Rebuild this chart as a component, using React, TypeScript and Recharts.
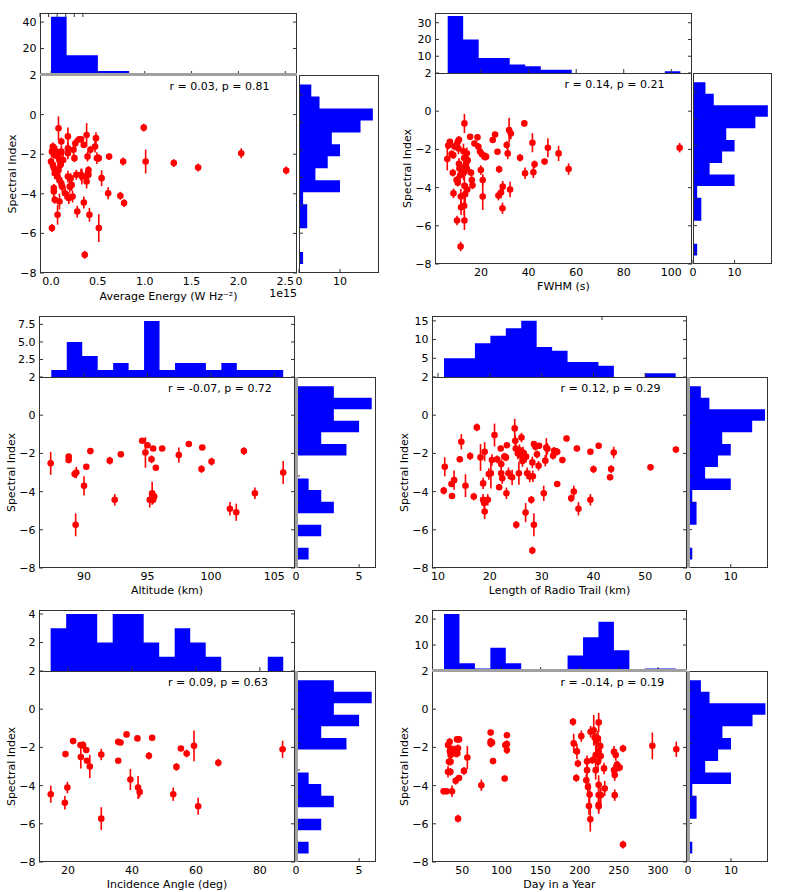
import React from 'react';
import {
  ComposedChart,
  ScatterChart,
  Scatter,
  ErrorBar,
  Area,
  XAxis,
  YAxis,
} from 'recharts';

// ---------- data ----------

// spectral index histogram (right margin), bins listed top -> bottom
const indexBinRange = [-7.55, 1.52];
const allIndexCounts = [3, 5, 18, 15, 8, 10, 7, 4, 10, 1, 2, 2, 0, 0, 1];
const subsetIndexCounts = [3, 6, 3, 5, 2, 4, 0, 0, 1, 2, 3, 0, 2, 0, 1];
const indexTicks = [-8, -6, -4, -2, 0, 2];
// the margin histogram carries its own (unlabelled) tick marks
const histIndexTicks = [0.99, -0.39, -1.79, -3.18, -4.57, -5.99, -7.39];

// points are [x, spectral index, error]
const energyPoints = [
  [0.01, -5.73, 0.2], [0.0, -2.37, 0.2], [0.01, -1.87, 0.2], [0.02, -1.61, 0.2], [0.02, -1.78, 0.15],
  [0.03, -2.03, 0.2], [0.02, -2.54, 0.3], [0.03, -2.7, 0.2], [0.04, -2.96, 0.3], [0.03, -3.71, 0.2],
  [0.03, -3.88, 0.3], [0.04, -4.3, 0.2], [0.08, -0.69, 0.6], [0.06, -1.87, 0.3], [0.07, -2.12, 0.3],
  [0.09, -2.29, 0.3], [0.1, -2.54, 0.4], [0.08, -2.79, 0.4], [0.07, -3.13, 0.3], [0.09, -3.3, 0.4],
  [0.11, -3.47, 0.3], [0.07, -5.06, 0.5], [0.09, -4.39, 0.4], [0.11, -1.36, 0.2], [0.11, -1.87, 0.3],
  [0.13, -2.29, 0.3], [0.12, -3.64, 0.3], [0.15, -3.97, 0.3], [0.18, -1.1, 0.45], [0.18, -1.7, 0.3],
  [0.18, -1.95, 0.3], [0.18, -3.13, 0.3], [0.19, -4.22, 0.3], [0.2, -3.64, 0.3], [0.21, -3.21, 0.25],
  [0.22, -3.55, 0.3], [0.23, -4.14, 0.3], [0.24, -1.78, 0.25], [0.25, -2.2, 0.2], [0.26, -1.45, 0.25],
  [0.27, -3.04, 0.25], [0.28, -4.9, 0.3], [0.3, -1.25, 0.15], [0.32, -1.25, 0.15], [0.32, -3.04, 0.3],
  [0.33, -3.13, 0.4], [0.35, -1.53, 0.15], [0.35, -4.44, 0.3], [0.36, -7.08, 0.2], [0.37, -3.13, 0.3],
  [0.38, -3.38, 0.35], [0.38, -1.03, 0.6], [0.39, -2.12, 0.25], [0.4, -2.8, 0.2], [0.4, -3.04, 0.2],
  [0.42, -1.78, 0.2], [0.41, -5.06, 0.35], [0.48, -1.19, 0.3], [0.47, -1.61, 0.3], [0.49, -2.2, 0.3],
  [0.51, -2.2, 0.2], [0.51, -5.73, 0.7], [0.54, -3.21, 0.4], [0.62, -2.12, 0.15], [0.61, -3.97, 0.3],
  [0.74, -4.1, 0.2], [0.78, -4.47, 0.2], [0.77, -2.37, 0.2], [0.99, -0.66, 0.2], [1.01, -2.37, 0.6],
  [1.31, -2.45, 0.2], [1.57, -2.67, 0.2], [2.03, -1.95, 0.25], [2.51, -2.82, 0.2],
];
const energyCounts = [44, 15, 15, 3, 3, 1, 1, 1, 0, 1, 0, 0, 1, 0, 1];
const energyBinRange = [0, 2.5];
const energyTicks = [0, 0.5, 1, 1.5, 2, 2.5];

const fwhmPoints = [
  [5.8, -2.5, 0.6], [6.2, -1.8, 0.2], [6.9, -1.6, 0.15], [7.6, -2.24, 0.2], [8.3, -2.3, 0.2],
  [8.8, -1.85, 0.2], [9.8, -1.77, 0.2], [10.2, -1.6, 0.2], [10.7, -1.5, 0.2], [8.1, -3.22, 0.2],
  [8.4, -4.3, 0.25], [9.7, -3.6, 0.2], [10.2, -3.74, 0.2], [10.5, -1.95, 0.3], [10.7, -2.75, 0.3],
  [10.9, -3.0, 0.3], [11.2, -3.35, 0.3], [11.5, -4.47, 0.4], [11.6, -5.03, 0.4], [9.9, -5.72, 0.25],
  [11.4, -7.08, 0.25], [13.0, -0.64, 0.5], [12.6, -2.1, 0.4], [12.9, -2.45, 0.5], [13.3, -2.9, 0.5],
  [12.6, -3.2, 0.4], [13.0, -3.9, 0.5], [13.3, -4.35, 0.5], [12.9, -4.95, 0.5], [13.0, -5.72, 0.5],
  [14.0, -2.2, 0.3], [13.7, -2.74, 0.3], [14.0, -3.0, 0.3], [14.4, -2.57, 0.3], [14.2, -4.1, 0.3],
  [15.4, -1.34, 0.15], [15.8, -3.22, 0.2], [16.1, -3.6, 0.2], [16.4, -3.88, 0.2], [17.2, -1.69, 0.15],
  [18.5, -1.37, 0.15], [18.9, -1.86, 0.2], [19.6, -2.12, 0.2], [19.9, -3.08, 0.25], [20.4, -2.25, 0.2],
  [20.7, -3.6, 0.3], [20.7, -4.47, 0.7], [21.4, -2.38, 0.2], [22.1, -2.38, 0.2], [24.9, -1.51, 0.15],
  [25.9, -1.22, 0.15], [26.9, -2.12, 0.15], [27.6, -3.04, 0.2], [27.3, -4.42, 0.25], [28.4, -4.26, 0.3],
  [29.1, -3.95, 0.3], [29.0, -5.08, 0.3], [30.8, -1.77, 0.2], [31.2, -2.21, 0.3], [31.8, -0.99, 0.65],
  [32.5, -1.17, 0.3], [32.2, -4.1, 0.4], [36.4, -2.44, 0.2], [38.2, -0.64, 0.15], [38.5, -3.25, 0.3],
  [41.6, -1.65, 0.5], [42.0, -3.2, 0.3], [42.5, -2.78, 0.2], [46.7, -2.64, 0.15], [48.1, -1.91, 0.5],
  [52.6, -2.21, 0.4], [56.8, -3.03, 0.3], [103.5, -1.91, 0.25],
];
const fwhmCounts = [34, 20, 9, 9, 5, 4, 2, 2, 0, 0, 0, 0, 0, 0, 1];
const fwhmBinRange = [5.96, 103.8];
const fwhmTicks = [20, 40, 60, 80, 100];

const altitudePoints = [
  [87.37, -2.52, 0.6], [88.79, -2.17, 0.1], [88.79, -2.35, 0.1], [89.26, -3.08, 0.2], [89.39, -3.0, 0.3],
  [90.0, -3.7, 0.5], [89.34, -5.74, 0.6], [90.18, -2.7, 0.1], [90.5, -1.88, 0.1], [92.03, -2.38, 0.2],
  [92.42, -4.43, 0.3], [92.9, -2.05, 0.1], [94.58, -1.34, 0.1], [94.84, -1.95, 0.8], [95.0, -1.57, 0.1],
  [95.45, -1.74, 0.1], [95.32, -2.31, 0.2], [95.18, -4.43, 0.4], [95.37, -4.09, 0.6], [95.45, -4.43, 0.2],
  [95.53, -4.26, 0.2], [95.66, -2.75, 0.1], [96.16, -1.74, 0.1], [97.47, -2.09, 0.4], [98.26, -1.51, 0.1],
  [99.26, -2.82, 0.2], [99.32, -1.69, 0.1], [100.05, -2.43, 0.2], [101.5, -4.9, 0.35], [102.0, -5.08, 0.45],
  [102.6, -1.88, 0.2], [103.47, -4.09, 0.3], [105.7, -3.0, 0.6],
];
const altitudeCounts = [1, 5, 3, 1, 2, 1, 8, 1, 2, 2, 1, 2, 1, 1, 1];
const altitudeBinRange = [87.42, 105.7];
const altitudeTicks = [90, 95, 100, 105];

const trailPoints = [
  [11.3, -2.7, 0.5], [11.1, -3.95, 0.2], [12.6, -3.6, 0.15], [12.7, -4.23, 0.15], [13.1, -3.4, 0.5],
  [14.2, -2.31, 0.15], [14.5, -1.39, 0.4], [15.3, -3.69, 0.6], [16.2, -2.14, 0.2], [16.9, -4.26, 0.2],
  [17.5, -0.64, 0.2], [18.2, -2.21, 0.7], [18.7, -3.57, 0.3], [18.7, -4.43, 0.3], [19.0, -1.91, 0.5],
  [19.0, -5.04, 0.4], [18.9, -4.6, 0.3], [19.6, -4.43, 0.3], [19.8, -3.08, 0.3], [20.2, -3.04, 0.8],
  [20.4, -2.35, 0.3], [20.9, -1.04, 0.6], [21.4, -2.31, 0.2], [21.8, -3.77, 0.15], [22.1, -1.74, 0.15],
  [22.2, -2.56, 0.25], [22.2, -3.04, 0.3], [22.4, -3.3, 0.3], [22.8, -2.17, 0.2], [23.1, -2.21, 0.2],
  [23.2, -4.09, 0.3], [23.3, -1.57, 0.15], [23.6, -3.04, 0.3], [24.3, -3.25, 0.4], [24.8, -0.69, 0.5],
  [24.9, -1.34, 0.3], [25.0, -1.74, 0.3], [25.1, -5.74, 0.2], [25.4, -2.0, 0.3], [25.6, -3.04, 0.6],
  [25.7, -1.83, 0.3], [25.9, -2.1, 0.3], [26.1, -1.17, 0.25], [26.3, -2.4, 0.3], [26.4, -1.95, 0.3],
  [26.9, -5.1, 0.5], [27.0, -2.17, 0.3], [27.2, -3.04, 0.3], [27.7, -3.21, 0.3], [28.0, -4.43, 0.2],
  [28.2, -2.47, 0.3], [28.3, -3.2, 0.3], [28.5, -5.74, 0.6], [28.2, -7.08, 0.2], [28.5, -1.51, 0.15],
  [28.8, -1.65, 0.2], [29.1, -2.05, 0.2], [29.4, -2.65, 0.25], [29.5, -1.6, 0.15], [30.4, -4.09, 0.4],
  [30.7, -2.38, 0.3], [30.9, -1.7, 0.5], [31.1, -1.76, 0.3], [32.2, -2.12, 0.2], [32.4, -1.86, 0.2],
  [33.0, -3.6, 0.15], [33.0, -1.91, 0.2], [34.0, -2.35, 0.15], [34.8, -1.22, 0.15], [35.7, -4.35, 0.2],
  [36.2, -4.0, 0.3], [36.8, -1.74, 0.15], [37.1, -4.9, 0.35], [39.4, -1.91, 0.15], [39.4, -4.43, 0.3],
  [40.0, -2.83, 0.2], [41.0, -1.6, 0.15], [43.2, -3.25, 0.15], [43.4, -2.82, 0.2], [43.9, -1.95, 0.3],
  [51.0, -2.73, 0.15], [55.9, -1.8, 0.15],
];
const trailCounts = [5, 5, 9, 11, 13, 15, 8, 7, 4, 4, 3, 0, 0, 1, 1];
const trailBinRange = [11.16, 55.85];
const trailTicks = [10, 20, 30, 40, 50];

const anglePoints = [
  [14.6, -4.45, 0.45], [19.0, -4.9, 0.35], [19.2, -2.35, 0.1], [19.8, -4.1, 0.3], [21.6, -1.67, 0.1],
  [23.9, -1.88, 0.1], [24.0, -2.5, 0.6], [24.7, -1.88, 0.2], [25.7, -2.14, 0.1], [25.9, -2.7, 0.1],
  [26.8, -3.0, 0.6], [30.4, -2.37, 0.3], [30.4, -5.73, 0.6], [35.7, -2.7, 0.1], [35.7, -1.71, 0.1],
  [36.4, -1.74, 0.1], [38.3, -1.32, 0.1], [39.5, -3.68, 0.55], [41.7, -1.53, 0.1], [41.9, -4.1, 0.6],
  [42.4, -4.33, 0.3], [45.3, -2.44, 0.2], [46.3, -1.5, 0.1], [52.9, -4.45, 0.35], [53.9, -3.02, 0.2],
  [55.3, -2.06, 0.1], [57.1, -2.32, 0.2], [59.4, -1.92, 0.8], [60.7, -5.08, 0.45], [67.0, -2.8, 0.2],
  [87.1, -2.1, 0.45],
];
const angleCounts = [3, 4, 4, 2, 4, 4, 2, 1, 3, 2, 1, 0, 0, 0, 1];
const angleBinRange = [14.57, 87.3];
const angleTicks = [20, 40, 60, 80];

const dayPoints = [
  [26.1, -4.3, 0.15], [29.6, -4.3, 0.15], [31.7, -1.88, 0.2], [33.8, -1.71, 0.2], [32.9, -2.75, 0.2],
  [31.7, -3.28, 0.3], [34.7, -3.28, 0.2], [34.1, -2.2, 0.2], [35.0, -2.4, 0.2], [35.0, -2.75, 0.2],
  [36.8, -4.3, 0.3], [37.2, -2.1, 0.2], [39.4, -2.2, 0.2], [40.7, -2.12, 0.2], [41.5, -2.32, 0.2],
  [41.5, -3.75, 0.2], [43.2, -1.58, 0.15], [43.6, -2.32, 0.2], [44.5, -2.05, 0.2], [44.5, -5.73, 0.2],
  [45.7, -3.6, 0.15], [45.7, -1.58, 0.15], [52.1, -3.23, 0.2], [56.4, -2.53, 0.6], [74.3, -3.98, 0.3],
  [86.2, -1.22, 0.15], [86.2, -1.7, 0.2], [86.2, -1.8, 0.2], [87.9, -1.75, 0.2], [89.2, -2.72, 0.15],
  [104.1, -3.63, 0.15], [104.9, -1.88, 0.2], [107.0, -1.36, 0.15], [107.0, -1.83, 0.2], [107.0, -2.14, 0.2],
  [191.4, -0.66, 0.2], [192.3, -1.79, 0.5], [195.6, -3.6, 0.2], [196.4, -2.21, 0.4], [197.7, -2.84, 0.2],
  [202.0, -1.41, 0.3], [208.4, -3.72, 0.3], [209.3, -2.73, 0.3], [209.3, -3.19, 0.4], [210.5, -4.07, 0.5],
  [211.8, -5.07, 0.45], [212.6, -4.47, 0.6], [213.5, -5.76, 0.65], [213.9, -1.18, 0.3], [216.1, -2.67, 0.2],
  [217.9, -1.1, 0.8], [219.1, -1.48, 0.4], [220.4, -2.4, 0.5], [221.2, -1.65, 0.4], [220.4, -3.19, 0.5],
  [224.2, -0.69, 0.5], [223.3, -1.53, 0.4], [224.2, -2.19, 0.4], [223.3, -2.75, 0.5], [224.2, -3.96, 0.5],
  [224.2, -4.49, 0.5], [224.2, -5.0, 0.4], [224.2, -5.08, 0.4], [226.3, -1.93, 0.3], [226.8, -2.45, 0.3],
  [226.8, -4.5, 0.4], [231.0, -3.1, 0.3], [231.9, -4.15, 0.4], [243.8, -2.23, 0.3], [243.8, -3.19, 0.3],
  [244.7, -3.45, 0.3], [244.7, -4.5, 0.3], [246.0, -2.4, 0.3], [246.9, -3.1, 0.2], [247.7, -2.9, 0.2],
  [251.0, -3.05, 0.2], [255.3, -2.06, 0.2], [255.3, -7.09, 0.2], [292.8, -1.92, 0.7], [323.4, -2.1, 0.4],
];
const dayCounts = [22, 3, 1, 9, 3, 0, 0, 0, 6, 13, 19, 8, 0, 1, 1];
const dayBinRange = [26.6, 322.6];
const dayTicks = [50, 100, 150, 200, 250, 300];

// ---------- styling ----------

const FONT = '"DejaVu Sans", sans-serif';
const FRAME = '#333';
const GREY = '#a0a0a0';
const BLUE = '#0000ff';
const RED = '#ff0000';
const tickStyle = { fontSize: 11, fill: '#000', fontFamily: FONT };
const blank = () => '';
const minusFmt = (v: number) => (v < 0 ? '\u2212' + Math.abs(v) : String(v));
const oneDec = (v: number) => v.toFixed(1);

// mirrored axes only draw the inward tick marks (matplotlib style), no labels
const inward = {
  mirror: true,
  tickSize: 4,
  tickFormatter: blank,
  tickLine: { stroke: FRAME, strokeWidth: 1 },
  axisLine: false,
  interval: 0 as const,
  allowDataOverflow: true,
};
const labelled = {
  tickLine: false,
  axisLine: false,
  tickSize: 0,
  tick: tickStyle,
  interval: 0 as const,
  allowDataOverflow: true,
};

const dot = (p: any) => <circle cx={p.cx} cy={p.cy} r={3.3} fill={RED} />;

function Frame({ x, y, w, h }: any) {
  return (
    <div style={{ position: 'absolute', left: x, top: y, width: w, height: h, border: `1px solid ${FRAME}`, boxSizing: 'border-box', pointerEvents: 'none' }} />
  );
}

function TopHist({ cfg }: { cfg: any }) {
  const { plot, topY, xDomain, xTicks, counts, binRange, topMax, topTicks, topFmt } = cfg;
  const n = counts.length;
  const step = (binRange[1] - binRange[0]) / n;
  const data = [...counts, counts[n - 1]].map((c: number, i: number) => ({ x: binRange[0] + i * step, c }));
  const L = 40;
  const T = 8;
  const h = plot.y - topY;
  return (
    <div style={{ position: 'absolute', left: plot.x - L, top: topY - T }}>
      <ComposedChart width={plot.w + L} height={h + T} data={data} margin={{ top: T, right: 0, bottom: 0, left: 0 }}>
        <XAxis type="number" dataKey="x" domain={xDomain} ticks={xTicks} {...inward} />
        <XAxis xAxisId="t" orientation="top" type="number" domain={xDomain} ticks={xTicks} {...inward} />
        <YAxis type="number" domain={[0, topMax]} ticks={topTicks} width={L} tickMargin={3.5} tickFormatter={topFmt} {...labelled} />
        <YAxis yAxisId="lm" type="number" domain={[0, topMax]} ticks={topTicks} {...inward} />
        <YAxis yAxisId="r" orientation="right" type="number" domain={[0, topMax]} ticks={topTicks} {...inward} />
        <Area type="stepAfter" dataKey="c" fill={BLUE} fillOpacity={1} stroke="none" isAnimationActive={false} />
      </ComposedChart>
    </div>
  );
}

function RightHist({ cfg }: { cfg: any }) {
  const { plot, right, indexCounts, rightMax, rightTicks } = cfg;
  const n = indexCounts.length;
  const step = (indexBinRange[1] - indexBinRange[0]) / n;
  const data = [...indexCounts, indexCounts[n - 1]].map((c: number, i: number) => ({ y: indexBinRange[1] - i * step, c }));
  const B = 30;
  const L = 10;
  const R = 10;
  return (
    <div style={{ position: 'absolute', left: right.x - L, top: plot.y }}>
      <ComposedChart layout="vertical" width={right.w + L + R} height={plot.h + B} data={data}
        margin={{ top: 0, right: R, bottom: 0, left: L }}>
        <XAxis type="number" domain={[0, rightMax]} ticks={rightTicks} height={B} tickMargin={4} {...labelled} />
        <XAxis xAxisId="bm" type="number" domain={[0, rightMax]} ticks={rightTicks} {...inward} />
        <YAxis type="number" dataKey="y" domain={[-8, 2]} ticks={histIndexTicks} reversed {...inward} />
        <Area type="stepBefore" dataKey="c" fill={BLUE} fillOpacity={1} stroke="none" isAnimationActive={false} />
      </ComposedChart>
    </div>
  );
}

function ScatterPanel({ cfg }: { cfg: any }) {
  const { plot, points, xDomain, xTicks, xFmt, xLabel, B } = cfg;
  const data = points.map(([x, y, e]: number[]) => ({ x, y, e }));
  const L = 56;
  const T = 8;
  return (
    <div style={{ position: 'absolute', left: plot.x - L, top: plot.y - T }}>
      <ScatterChart width={plot.w + L} height={plot.h + B + T} margin={{ top: T, right: 0, bottom: 0, left: 0 }}>
        <XAxis type="number" dataKey="x" domain={xDomain} ticks={xTicks} height={B} tickMargin={4} tickFormatter={xFmt} {...labelled}
          label={{ value: xLabel, position: 'center', fontSize: 11, fill: '#000', fontFamily: FONT }} />
        <XAxis xAxisId="bm" type="number" domain={xDomain} ticks={xTicks} {...inward} />
        <XAxis xAxisId="t" orientation="top" type="number" domain={xDomain} ticks={xTicks} {...inward} />
        <YAxis type="number" dataKey="y" domain={[-8, 2]} ticks={indexTicks} width={L} tickMargin={3.5} tickFormatter={minusFmt} {...labelled}
          label={{ value: 'Spectral Index', angle: -90, position: 'center', fontSize: 11, fill: '#000', fontFamily: FONT }} />
        <YAxis yAxisId="lm" type="number" domain={[-8, 2]} ticks={indexTicks} {...inward} />
        <YAxis yAxisId="r" orientation="right" type="number" domain={[-8, 2]} ticks={indexTicks} {...inward} />
        <Scatter data={data} shape={dot} isAnimationActive={false}>
          <ErrorBar dataKey="e" direction="y" width={0} stroke={RED} strokeWidth={1.6} />
        </Scatter>
      </ScatterChart>
    </div>
  );
}

function Panel({ cfg }: { cfg: any }) {
  const { plot, topY, right, note, offset, topLine, rightLine } = cfg;
  return (
    <>
      <TopHist cfg={cfg} />
      <RightHist cfg={cfg} />
      <ScatterPanel cfg={cfg} />
      <Frame x={plot.x} y={topY} w={plot.w} h={plot.y - topY + 1} />
      <Frame x={plot.x} y={plot.y} w={plot.w} h={plot.h} />
      <Frame x={right.x} y={plot.y} w={right.w} h={plot.h} />
      {topLine && <div style={{ position: 'absolute', left: plot.x, top: plot.y - 2, width: plot.w, height: 3, background: GREY }} />}
      {rightLine && <div style={{ position: 'absolute', left: right.x - 1, top: plot.y, width: 3, height: plot.h, background: GREY }} />}
      <div style={{ position: 'absolute', left: plot.x + plot.w * 0.5 + 1, top: plot.y + 4.5, fontSize: 11, lineHeight: '13px', whiteSpace: 'nowrap' }}>
        {note}
      </div>
      {offset && (
        <div style={{ position: 'absolute', left: plot.x + plot.w - 60, width: 60, top: plot.y + plot.h + 13.5, fontSize: 11, lineHeight: '13px', textAlign: 'right' }}>
          {offset}
        </div>
      )}
    </>
  );
}

const panels = [
  {
    plot: { x: 40, y: 75, w: 257, h: 198 }, topY: 13, right: { x: 299, w: 80 },
    points: energyPoints, xDomain: [-0.1175, 2.625], xTicks: energyTicks, xFmt: oneDec,
    xLabel: 'Average Energy (W Hz\u207B\u00B2)', B: 46, offset: '1e15',
    counts: energyCounts, binRange: energyBinRange, topMax: 46.9, topTicks: [20, 40], topFmt: String, topLine: true,
    indexCounts: allIndexCounts, rightMax: 19.5, rightTicks: [0, 10], rightLine: false,
    note: 'r = 0.03, p = 0.81',
  },
  {
    plot: { x: 435, y: 73, w: 257, h: 191 }, topY: 13, right: { x: 693, w: 79 },
    points: fwhmPoints, xDomain: [0.63, 108.7], xTicks: fwhmTicks, xFmt: String,
    xLabel: 'FWHM (s)', B: 44,
    counts: fwhmCounts, binRange: fwhmBinRange, topMax: 35.8, topTicks: [10, 20, 30], topFmt: String, topLine: false,
    indexCounts: allIndexCounts, rightMax: 19.0, rightTicks: [0, 10], rightLine: false,
    note: 'r = 0.14, p = 0.21',
  },
  {
    plot: { x: 39, y: 377, w: 256, h: 191 }, topY: 316, right: { x: 296, w: 80 },
    points: altitudePoints, xDomain: [86.45, 106.63], xTicks: altitudeTicks, xFmt: String,
    xLabel: 'Altitude (km)', B: 45,
    counts: altitudeCounts, binRange: altitudeBinRange, topMax: 8.7, topTicks: [2.5, 5, 7.5], topFmt: oneDec, topLine: false,
    indexCounts: subsetIndexCounts, rightMax: 6.34, rightTicks: [0, 5], rightLine: true,
    note: 'r = -0.07, p = 0.72',
  },
  {
    plot: { x: 432, y: 377, w: 255, h: 191 }, topY: 316, right: { x: 688, w: 80 },
    points: trailPoints, xDomain: [8.84, 58.04], xTicks: trailTicks, xFmt: String,
    xLabel: 'Length of Radio Trail (km)', B: 45,
    counts: trailCounts, binRange: trailBinRange, topMax: 16.3, topTicks: [5, 10, 15], topFmt: String, topLine: false,
    indexCounts: allIndexCounts, rightMax: 18.7, rightTicks: [0, 10], rightLine: true,
    note: 'r = 0.12, p = 0.29',
  },
  {
    plot: { x: 39, y: 671, w: 256, h: 191 }, topY: 610, right: { x: 296, w: 80 },
    points: anglePoints, xDomain: [10.92, 90.98], xTicks: angleTicks, xFmt: String,
    xLabel: 'Incidence Angle (deg)', B: 44,
    counts: angleCounts, binRange: angleBinRange, topMax: 4.28, topTicks: [2, 4], topFmt: String, topLine: false,
    indexCounts: subsetIndexCounts, rightMax: 6.34, rightTicks: [0, 5], rightLine: true,
    note: 'r = 0.09, p = 0.63',
  },
  {
    plot: { x: 432, y: 671, w: 255, h: 191 }, topY: 610, right: { x: 688, w: 80 },
    points: dayPoints, xDomain: [11.24, 337.06], xTicks: dayTicks, xFmt: String,
    xLabel: 'Day in a Year', B: 44,
    counts: dayCounts, binRange: dayBinRange, topMax: 23.5, topTicks: [10, 20], topFmt: String, topLine: true,
    indexCounts: allIndexCounts, rightMax: 18.6, rightTicks: [0, 10], rightLine: true,
    note: 'r = -0.14, p = 0.19',
  },
];

export default function App() {
  return (
    <div style={{ position: 'absolute', left: 0, top: 0, width: 789, height: 892, background: '#fff', fontFamily: FONT, color: '#000', overflow: 'hidden' }}>
      {panels.map((cfg, i) => (
        <Panel key={i} cfg={cfg} />
      ))}
    </div>
  );
}
